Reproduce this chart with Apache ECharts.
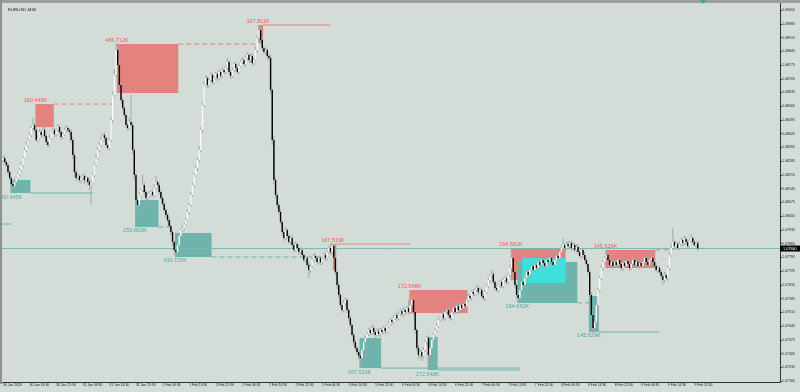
<!DOCTYPE html>
<html><head><meta charset="utf-8">
<script src="https://cdn.jsdelivr.net/npm/echarts@6/dist/echarts.min.js"></script>
<style>html,body{margin:0;padding:0;background:#d3dcd7}#c{width:800px;height:392px}</style>
</head><body><div id="c"></div>
<script>
const symbolTitle = 'EURUSD,M30';
const xTickLabels = ['30 Jan 2024','30 Jan 14:30','30 Jan 22:30','31 Jan 06:30','31 Jan 14:30','31 Jan 22:30','1 Feb 06:30','1 Feb 14:30','1 Feb 22:30','2 Feb 06:30','2 Feb 14:30','2 Feb 22:30','5 Feb 06:30','5 Feb 14:30','5 Feb 22:30','6 Feb 06:30','6 Feb 14:30','6 Feb 22:30','7 Feb 06:30','7 Feb 14:30','7 Feb 22:30','8 Feb 06:30','8 Feb 14:30','8 Feb 22:30','9 Feb 06:30','9 Feb 14:30','9 Feb 22:30'];
const yTickLabels = ['1.09055','1.08985','1.08915','1.08845','1.08775','1.08705','1.08635','1.08565','1.08495','1.08425','1.08355','1.08285','1.08215','1.08145','1.08075','1.08005','1.07935','1.07865','1.07795','1.07725','1.07655','1.07585','1.07515','1.07445','1.07375','1.07305','1.07235','1.07165'];

// prices in points (0.00001) above 1.07000
const PRICE_BASE = 1.07, POINT = 0.00001;
const firstOpenPts = 1290;
const closePts = [
1301,1281,1265,1230,1199,1169,1159,1179,1199,1220,1240,1265,1301,1342,1367,1393,
1418,1454,1469,1444,1393,1403,1434,1418,1444,1413,1383,1367,1403,1434,1444,1423,
1444,1459,1434,1408,1423,1444,1454,1444,1434,1393,1316,1230,1199,1209,1189,1199,
1209,1189,1199,1179,1164,1174,1215,1265,1301,1342,1367,1393,1418,1403,1367,1352,
1393,1495,1622,1724,1851,1775,1673,1597,1556,1520,1469,1454,1485,1469,1342,1215,
1087,1062,1113,1138,1164,1128,1097,1108,1118,1128,1113,1148,1179,1164,1128,1097,
1067,1036,1011,985,955,924,873,832,822,858,904,934,945,965,985,1026,
1062,1113,1164,1215,1250,1291,1342,1444,1571,1673,1709,1673,1698,1724,1688,1709,
1729,1709,1739,1719,1749,1739,1760,1790,1739,1719,1749,1780,1760,1739,1770,1790,
1800,1780,1811,1826,1800,1821,1785,1800,1851,1912,1953,1902,1861,1841,1851,1821,
1811,1648,1393,1189,1113,1062,1026,975,924,894,934,904,873,894,858,832,
863,843,822,832,807,782,792,756,731,751,782,802,792,771,792,771,
792,807,792,822,843,822,853,792,720,654,603,552,527,563,578,527,
486,450,400,364,333,313,293,282,323,364,384,405,425,410,435,415,
400,420,405,425,415,435,420,445,456,476,466,486,501,486,506,522,
506,527,517,537,517,552,578,517,425,333,298,313,293,323,364,384,
298,333,374,400,425,445,476,486,506,486,517,527,501,486,517,537,
517,547,527,552,537,557,547,578,598,588,619,608,629,639,619,629,
598,588,619,649,680,700,710,669,639,629,654,669,649,680,690,669,
705,741,792,720,654,603,588,629,669,654,690,720,705,731,751,731,
756,741,771,756,782,766,751,782,771,792,771,756,782,802,792,822,
843,858,843,863,853,868,843,858,832,848,822,802,832,807,782,761,
720,603,501,435,466,552,629,690,741,771,792,807,782,756,771,751,
771,756,782,761,741,766,751,776,761,741,761,782,756,771,751,766,
751,771,792,771,756,782,792,771,751,731,741,720,700,680,705,690,
741,807,843,873,853,863,843,863,883,868,889,873,853,878,894,873,
858,868,840];
const wickUpPts = [
10,15,8,12,6,10,14,20,8,12,10,15,8,12,18,10,
15,12,36,10,25,12,15,10,31,18,10,12,20,8,12,10,
10,15,12,8,10,12,15,10,8,12,15,10,12,8,10,12,
10,12,8,10,12,15,10,15,20,12,15,25,10,12,8,10,
10,15,20,30,36,15,20,12,10,15,12,10,20,138,15,10,
12,20,15,10,51,12,10,15,12,10,15,20,31,10,12,15,
10,12,8,10,12,15,10,12,20,15,12,10,15,10,12,15,
10,15,12,10,15,12,20,15,12,20,15,10,12,15,10,12,
10,12,15,10,12,8,15,20,10,12,15,10,12,8,15,12,
15,10,12,15,10,12,15,10,20,15,25,20,15,10,12,10,
10,15,12,20,15,10,12,15,10,12,15,10,12,10,15,12,
12,10,15,12,10,8,12,10,15,12,10,15,12,10,12,10,
10,12,15,10,12,25,15,10,12,10,15,12,10,15,12,10,
10,12,10,15,12,10,12,15,10,12,15,10,12,10,15,12,
10,12,15,10,12,8,10,12,15,10,12,15,10,12,15,10,
12,15,10,12,41,15,20,12,10,12,15,10,12,15,10,12,
12,10,15,12,10,15,12,10,15,12,10,15,20,12,15,10,
10,15,12,20,10,15,12,10,15,12,10,15,12,10,15,12,
12,15,10,12,15,10,20,12,10,15,12,10,15,12,10,12,
12,15,51,12,10,12,10,15,12,10,15,12,10,12,15,10,
10,12,15,10,12,15,10,12,10,15,12,10,12,15,10,12,
12,36,10,12,15,10,12,15,10,12,15,10,12,10,15,12,
10,12,15,10,12,15,10,12,15,12,10,25,12,10,15,12,
12,10,15,12,10,12,15,10,12,15,10,12,15,10,12,10,
12,10,15,12,10,12,10,41,12,15,10,12,10,12,15,10,
12,15,20,71,15,12,10,15,12,10,15,12,10,12,20,10,
12,10,12];
const wickDownPts = [
12,8,10,15,10,20,25,8,10,6,12,8,10,6,10,8,
8,10,12,15,10,12,8,15,10,12,15,10,8,12,10,15,
12,8,10,15,10,8,12,10,15,12,20,25,15,10,12,18,
15,20,12,15,25,102,10,12,8,10,12,10,8,15,12,10,
12,10,15,10,12,15,20,15,12,10,15,12,10,12,20,25,
61,20,12,15,10,12,15,10,12,15,10,12,10,15,12,10,
12,10,15,12,10,15,20,25,20,10,12,15,10,12,8,10,
12,10,8,12,10,15,12,10,15,12,10,15,12,10,12,10,
12,15,10,12,8,10,12,10,15,12,10,12,15,10,12,10,
10,12,15,10,12,15,10,12,10,15,12,20,15,12,10,15,
15,20,25,20,15,20,15,12,20,15,12,15,10,12,15,12,
10,12,15,10,12,15,10,12,41,15,10,12,15,10,12,15,
12,10,15,12,10,12,15,10,15,20,15,12,15,10,12,15,
15,12,10,15,12,15,20,50,15,10,12,15,10,12,10,12,
12,10,12,15,10,12,15,10,12,10,15,12,10,15,12,10,
10,12,15,10,12,10,12,15,20,15,20,15,25,12,10,15,
75,15,12,10,12,15,10,12,10,15,12,10,12,15,10,12,
12,10,15,12,10,12,15,10,12,10,15,12,10,12,15,10,
10,12,15,10,12,15,10,12,15,10,12,15,10,12,15,10,
12,10,15,12,15,20,25,12,10,15,12,10,12,15,10,12,
12,10,12,15,10,12,15,10,12,10,15,12,10,12,10,15,
10,12,15,10,12,10,15,12,10,12,15,10,12,15,10,12,
15,20,25,25,15,12,10,12,10,12,15,10,12,10,12,15,
10,12,15,10,12,15,10,12,10,15,12,10,12,15,10,12,
10,12,10,15,12,10,12,15,10,12,15,10,15,25,12,10,
15,12,10,12,10,15,12,10,12,15,10,12,10,12,10,15,
10,12,10];

// zones: kind S=supply(red) D=demand(teal) C=cyan
const zoneKind  = ['D','S','S','D','D','S','S','S','D','D','S','D','C','D','S'];
const zoneStart = [5, 20, 69, 80, 104, 154, 199, 245, 215, 256, 306, 310, 313, 353, 363];
const zoneEnd   = [16, 30, 105, 93, 125, 156, 200, 279, 227, 261, 338, 345, 338, 358, 392];
const zoneTopPts= [1189,1576,1882,1087,919,1979,863,629,384,389,843,771,792,598,833];
const zoneBotPts= [1123,1459,1632,950,797,1887,731,512,231,221,680,563,664,415,741];
const zoneText  = ['160.445K','160.445K','486.712K','250.863K','433.720K','197.811K','167.519K','172.548K','167.519K','172.548K','164.662K','164.662K','','145.629K','145.629K'];
const zoneLineEnd=[54, 66, 152, 101, 197, 197, 245, 0, 311, 311, 0, 353, 0, 395, 402];
const zoneLineDash=[0, 1, 1, 1, 1, 0, 0, 0, 0, 0, 0, 1, 0, 0, 1];
// short stray teal line at left edge
const strayLineStart = 0, strayLineEnd = 5, strayLinePts = 965;

const N_SLOTS = 468;
const toPrice = p => +(PRICE_BASE + p * POINT).toFixed(5);
const candles = closePts.map((c, i) => {
  const o = i === 0 ? firstOpenPts : closePts[i - 1];
  const hi = Math.max(o, c) + wickUpPts[i];
  const lo = Math.min(o, c) - wickDownPts[i];
  return [i, toPrice(o), toPrice(c), toPrice(lo), toPrice(hi)];
});
const lastPrice = candles[candles.length - 1][2];

const RED = '#e3827f', TEAL = '#6eb4ad', CYAN = '#3fe0dc';
const RED_TXT = '#e65f5a', TEAL_TXT = '#4fa8a1';
const FONT = 'Liberation Sans, DejaVu Sans, sans-serif';

const chart = echarts.init(document.getElementById('c'), null, {renderer: 'canvas'});

function renderCandle(params, api) {
  const i = api.value(0), o = api.value(1), c = api.value(2), l = api.value(3), h = api.value(4);
  const pO = api.coord([i, o]), pC = api.coord([i, c]), pL = api.coord([i, l]), pH = api.coord([i, h]);
  const x = pO[0];
  const up = c >= o;
  const top = Math.min(pO[1], pC[1]), bot = Math.max(pO[1], pC[1]);
  return {type: 'group', children: [
    {type: 'line', shape: {x1: x, y1: pH[1], x2: x, y2: pL[1]}, style: {stroke: '#a2aaa8', lineWidth: 1}},
    {type: 'rect', shape: {x: x - 0.7, y: top, width: 1.4, height: Math.max(1, bot - top)},
     style: {fill: up ? '#ffffff' : '#000000'}}
  ]};
}

function renderZone(params, api) {
  const k = params.dataIndex;
  const children = [];
  const band = api.size([1, 0])[0];
  const cs = params.coordSys;
  if (k === zoneKind.length) {
    // stray line + current price line with its label
    const a = api.coord([strayLineStart, toPrice(strayLinePts)]);
    const b = api.coord([strayLineEnd, toPrice(strayLinePts)]);
    children.push({type: 'line', shape: {x1: cs.x, y1: a[1], x2: b[0], y2: b[1]}, style: {stroke: TEAL, lineWidth: 1}});
    const yp = api.coord([0, lastPrice])[1];
    children.push({type: 'line', shape: {x1: cs.x - 2, y1: yp, x2: cs.x + cs.width, y2: yp}, style: {stroke: '#7ab9b3', lineWidth: 1}});
    children.push({type: 'rect', shape: {x: cs.x + cs.width, y: yp - 3, width: 20, height: 6}, style: {fill: '#000'}});
    children.push({type: 'text', style: {text: lastPrice.toFixed(5), x: cs.x + cs.width + 3, y: yp,
      align: 'left', verticalAlign: 'middle', fill: '#fff', fontSize: 3.8, fontFamily: FONT}});
    return {type: 'group', children};
  }
  const kind = zoneKind[k];
  const tl = api.coord([zoneStart[k], toPrice(zoneTopPts[k])]);
  const br = api.coord([zoneEnd[k], toPrice(zoneBotPts[k])]);
  const x0 = tl[0] - band / 2, x1 = br[0] + band / 2;
  const fill = kind === 'S' ? RED : kind === 'D' ? TEAL : CYAN;
  children.push({type: 'rect', shape: {x: x0, y: tl[1], width: x1 - x0, height: br[1] - tl[1]}, style: {fill}});
  if (zoneLineEnd[k] > 0) {
    const yLine = kind === 'S' ? tl[1] : br[1];
    const xe = api.coord([zoneLineEnd[k], 1.08])[0];
    children.push({type: 'line', shape: {x1: x1, y1: yLine, x2: xe, y2: yLine},
      style: {stroke: kind === 'S' ? '#e8837f' : TEAL, lineWidth: 1, lineDash: zoneLineDash[k] ? [5, 3] : null}});
  }
  if (zoneText[k]) {
    children.push({type: 'text', z2: 10, style: {
      text: zoneText[k], x: x0, y: kind === 'S' ? tl[1] - 0.5 : br[1] + 1,
      align: 'center', verticalAlign: kind === 'S' ? 'bottom' : 'top',
      fill: kind === 'S' ? RED_TXT : TEAL_TXT, fontSize: 5.5, fontFamily: FONT}});
  }
  return {type: 'group', children};
}

const zoneData = zoneStart.map((s, k) => [s, toPrice(zoneTopPts[k])]).concat([[0, lastPrice]]);

const option = {
  backgroundColor: '#d3dcd7',
  animation: false,
  title: {text: symbolTitle, left: 3, top: 3, textStyle: {fontSize: 4.4, color: '#222', fontWeight: 'normal', fontFamily: FONT}},
  grid: {left: 2, right: 20, top: 3, bottom: 10},
  xAxis: {
    type: 'category',
    data: Array.from({length: N_SLOTS}, (_, i) => String(i)),
    boundaryGap: true,
    axisLine: {lineStyle: {color: '#333', width: 1}},
    axisTick: {interval: 15, alignWithLabel: true, length: 2, lineStyle: {color: '#333'}},
    axisLabel: {interval: 15, align: 'left', margin: 2, fontSize: 3.4, color: '#222', fontFamily: FONT,
      formatter: (v, idx) => xTickLabels[idx / 16] || ''},
    splitLine: {show: false}
  },
  yAxis: {
    type: 'value',
    position: 'right',
    min: 1.07160, max: 1.09091,
    axisLine: {show: true, lineStyle: {color: '#333', width: 1}},
    axisTick: {show: true, length: 2, customValues: yTickLabels.map(Number), lineStyle: {color: '#333'}},
    axisLabel: {customValues: yTickLabels.map(Number), margin: 2, fontSize: 3.6, color: '#222', fontFamily: FONT,
      formatter: v => v.toFixed(5)},
    splitLine: {show: false}
  },
  series: [
    {type: 'custom', name: 'zones', renderItem: renderZone, clip: false, z: 1,
     encode: {x: 0, y: 1}, data: zoneData, silent: true},
    {type: 'custom', name: 'EURUSD', renderItem: renderCandle, clip: true, z: 3,
     encode: {x: 0, y: [1, 2, 3, 4]}, data: candles}
  ],
  graphic: [
    {type: 'rect', z: 100, shape: {x: 0, y: 0, width: 800, height: 3}, style: {fill: '#9c9e9e'}},
    {type: 'rect', z: 100, shape: {x: 0, y: 0, width: 2, height: 384}, style: {fill: '#8e9090'}},
    {type: 'polygon', z: 101, shape: {points: [[700, 0], [706, 0], [703, 4]]}, style: {fill: '#3aa6a0'}}
  ]
};
chart.setOption(option);
</script>
</body></html>
